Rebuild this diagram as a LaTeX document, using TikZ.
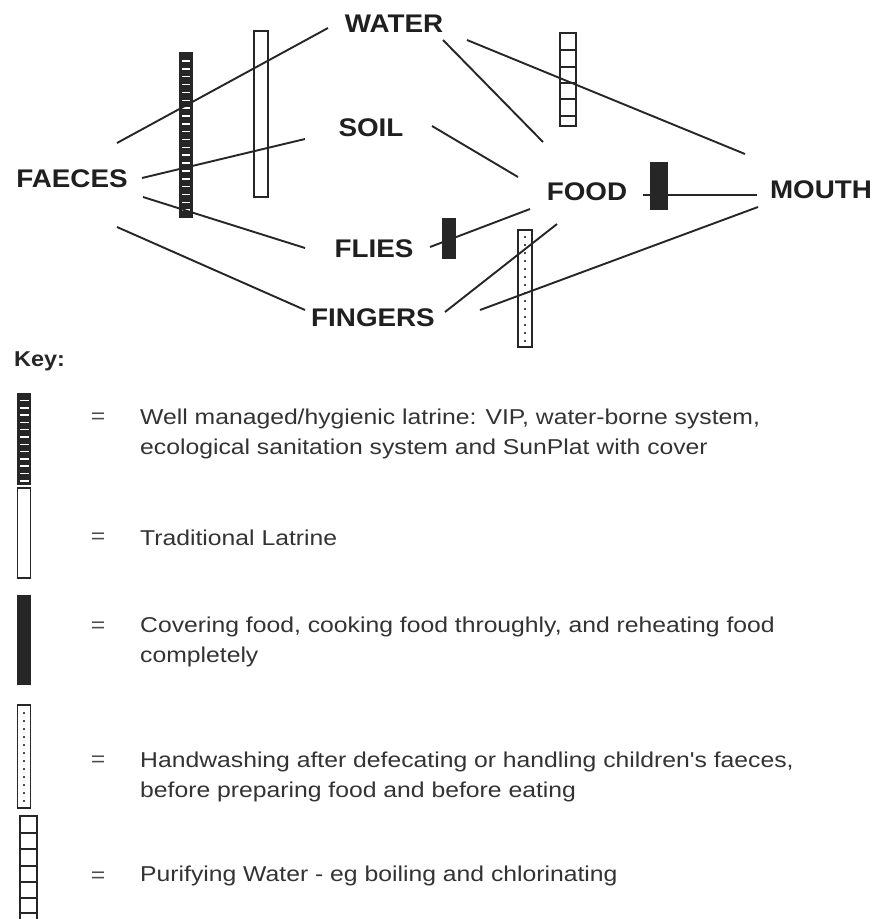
\documentclass[tikz,border=0pt]{standalone}
\usepackage{fontspec}
\setmainfont{Liberation Sans}
\newfontfamily\labfont[FakeStretch=1.09]{Liberation Sans}
\newfontfamily\keyfont[FakeStretch=1.15]{Liberation Sans}
\begin{document}
\begin{tikzpicture}[x=1pt,y=-1pt,
  lab/.style={font=\labfont\bfseries\fontsize{25.5}{30}\selectfont, text=black!88, inner sep=0pt},
  link/.style={line width=1.9pt, draw=black!85},
  keytxt/.style={font=\keyfont\fontsize{21.5}{29.5}\selectfont, text=black!80, anchor=west, align=left, inner sep=0pt},
  eqsign/.style={font=\keyfont\fontsize{21.5}{29.5}\selectfont, text=black!70, inner sep=0pt},
  outl/.style={draw=black!85, line width=1.6pt, fill=white},
  dark/.style={fill=black!85},
  wdash/.style={draw=white, line width=1.5pt},
  dotl/.style={draw=black!70, line width=1.3pt, dash pattern=on 2.2pt off 5.8pt},
  divl/.style={draw=black!85, line width=1.5pt}
]
\useasboundingbox[fill=white] (0,0) rectangle (879,919);

% ---------- barriers in the diagram ----------
% well managed latrine
\path[dark] (179,52) rectangle (193,218);
\foreach \i in {0,...,19} \draw[wdash] (182,{61+7.85*\i}) -- (190,{61+7.85*\i});
% traditional latrine
\draw[outl, line width=1.3pt] (254,31) rectangle (268,197);
% water purification
\draw[outl, line width=2pt] (560,33) rectangle (576,126);
\foreach \yy in {50,67,83,99,116} \draw[divl] (560,\yy) -- (576,\yy);
% food barriers
\path[dark] (442,218) rectangle (456,259);
\path[dark] (650,162) rectangle (668,210);
% handwashing
\draw[outl, line width=1.4pt] (518,230) rectangle (532,347);
\draw[dotl] (525,236) -- (525,344);

% ---------- labels ----------
\node[lab] (water)   at (394,24)  {WATER};
\node[lab] (soil)    at (371,128) {SOIL};
\node[lab] (faeces)  at (72,179)  {FAECES};
\node[lab] (flies)   at (374,249) {FLIES};
\node[lab] (fingers) at (373,318) {FINGERS};
\node[lab] (food)    at (587,192) {FOOD};
\node[lab] (mouth)   at (821,190) {MOUTH};

% ---------- connector end points ----------
\coordinate (fa1) at (117,143); \coordinate (wa1) at (328,28);
\coordinate (fa2) at (142,178); \coordinate (so1) at (305,139);
\coordinate (fa3) at (143,197); \coordinate (fl1) at (305,248);
\coordinate (fa4) at (117,227); \coordinate (fi1) at (305,310);
\coordinate (wa2) at (443,40);  \coordinate (fo1) at (543,142);
\coordinate (wa3) at (467,40);  \coordinate (mo1) at (745,154);
\coordinate (so2) at (432,126); \coordinate (fo2) at (518,177);
\coordinate (fl2) at (430,247); \coordinate (fo3) at (530,209);
\coordinate (fi2) at (445,312); \coordinate (fo4) at (557,224);
\coordinate (fo5) at (643,195); \coordinate (mo2) at (757,195);
\coordinate (fi3) at (480,310); \coordinate (mo3) at (758,207);

\draw[link] (fa1) -- (wa1);
\draw[link] (fa2) -- (so1);
\draw[link] (fa3) -- (fl1);
\draw[link] (fa4) -- (fi1);
\draw[link] (wa2) -- (fo1);
\draw[link] (wa3) -- (mo1);
\draw[link] (so2) -- (fo2);
\draw[link] (fl2) -- (fo3);
\draw[link] (fi2) -- (fo4);
\draw[link] (fo5) -- (mo2);
\draw[link] (fi3) -- (mo3);

% ---------- key ----------
\node[font=\labfont\bfseries\fontsize{21.5}{25}\selectfont, text=black!85, anchor=west, inner sep=0pt] (keyhead) at (14,361) {Key:};

% key symbols
\path[dark] (17,393) rectangle (31,485);
\foreach \i in {0,...,11} \draw[wdash] (19.5,{400.5+7.3*\i}) -- (28.5,{400.5+7.3*\i});
\draw[outl, line width=1.4pt] (17.5,488) rectangle (30.5,578);
\path[dark] (17,595) rectangle (31,685);
\draw[outl, line width=1.4pt] (17.5,705) rectangle (30.5,808);
\draw[dotl] (24,712) -- (24,806);
\draw[outl, line width=2pt] (20,816) rectangle (37,935);
\foreach \yy in {833,849,866,882,898,913} \draw[divl] (20,\yy) -- (37,\yy);

% key texts
\node[eqsign] (eq1) at (98,418) {=};
\node[eqsign] (eq2) at (98,538) {=};
\node[eqsign] (eq3) at (98,627) {=};
\node[eqsign] (eq4) at (98,761) {=};
\node[eqsign] (eq5) at (98,877) {=};

\node[keytxt] (k1) at (140,434) {Well managed/hygienic latrine: VIP, water-borne system,\\ecological sanitation system and SunPlat with cover};
\node[keytxt] (k2) at (140,538) {Traditional Latrine};
\node[keytxt] (k3) at (140,642) {Covering food, cooking food throughly, and reheating food\\completely};
\node[keytxt] (k4) at (140,777) {Handwashing after defecating or handling children's faeces,\\before preparing food and before eating};
\node[keytxt] (k5) at (140,876) {Purifying Water - eg boiling and chlorinating};
\end{tikzpicture}
\end{document}
